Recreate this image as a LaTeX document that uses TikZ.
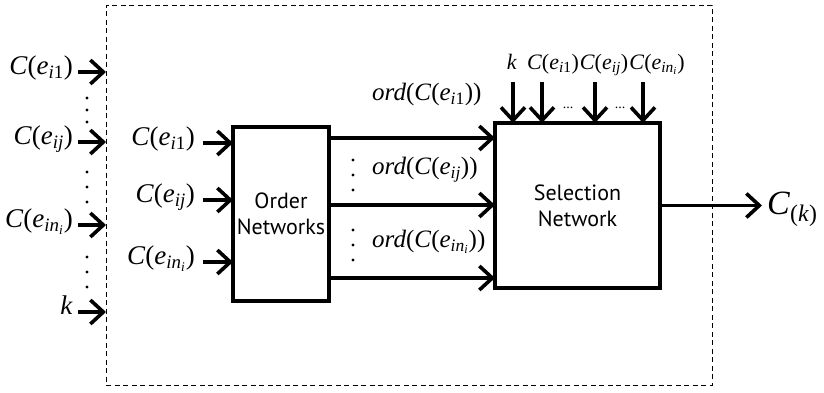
\documentclass[tikz,border=0pt]{standalone}
\usepackage{fontspec}
\setmainfont{Liberation Serif}
\newfontfamily\tms{Liberation Serif}
\setsansfont{PT Sans}
\usetikzlibrary{positioning,arrows.meta,calc}
\newcommand{\ce}[1]{\textit{C}(\textit{e}\textsubscript{#1})}
\newcommand{\nsub}{\textit{in}\textsubscript{\textit{i}}}
\tikzset{
  sn-box/.style={
    draw, line width=3.4pt, font=\fontsize{22}{26}\sffamily,
    align=center, inner sep=0pt, outer sep=0pt
  },
  sn-flow/.style={-{Straight Barb[length=13pt,width=24pt]}, line width=3.6pt},
  sn-lab/.style={font=\tms\fontsize{27}{30}\selectfont, inner sep=0pt,
    text height=0.72em, text depth=0.22em},
  sn-top/.style={sn-lab, font=\tms\fontsize{22}{26}\selectfont},
  sn-frame/.style={draw, line width=0.9pt, dash pattern=on 5pt off 3.5pt,
    inner sep=0pt, outer sep=0pt}
}
\begin{document}
\begin{tikzpicture}[x=1pt, y=-1pt]
\useasboundingbox (0,0) rectangle (824,392);
% Frame and blocks
\node[sn-frame, minimum width=606pt, minimum height=380pt, anchor=north west] (frame) at (106,5) {};
\node[sn-box, minimum width=96pt, minimum height=174pt, anchor=north west] (order) at (233,127) {Order\\Networks};
\node[sn-box, minimum width=165pt, minimum height=165pt, anchor=north west] (sel) at (495,123) {Selection\\Network};
% Inputs of the frame
\foreach \n/\t/\y in {a/{\ce{\textit{i}1}}/72, b/{\ce{\textit{ij}}}/142, c/{\ce{\nsub}}/225, d/{\textit{k}}/312}{
  \node[sn-lab, anchor=east] (l\n) at (73,\y) {\t};
  \draw[sn-flow, shorten <=5pt] (l\n.east) -- (frame.west |- l\n.east);
}
\foreach \y in {98,110,122, 172,187,202, 257,272,287}
  \fill (87,\y) circle (1.7pt);
% Inputs of the order networks
\foreach \n/\t/\y in {a/{\ce{\textit{i}1}}/143, b/{\ce{\textit{ij}}}/200, c/{\ce{\nsub}}/262}{
  \node[sn-lab, anchor=east] (o\n) at (195,\y) {\t};
  \draw[sn-flow, shorten <=8pt] (o\n.east) -- (order.west |- o\n.east);
}
% Ordered outputs
\foreach \n/\t/\y/\ly in {a/{\textit{ord}(\ce{\textit{i}1})}/138/98, b/{\textit{ord}(\ce{\textit{ij}})}/205/172, c/{\textit{ord}(\ce{\nsub})}/278/245}{
  \coordinate (y\n) at (0,\y);
  \draw[sn-flow] (order.east |- y\n) -- (sel.west |- y\n);
  \node[sn-lab, font=\tms\fontsize{25}{28}\selectfont, anchor=west] (r\n) at (372,\ly) {\t};
}
\foreach \y in {160,175,190, 230,245,260}
  \fill (353,\y) circle (1.7pt);
% Inputs of the selection network
\foreach \n/\t/\x/\ax in {a/{\textit{k}}/512/513, b/{\ce{\textit{i}1}}/553/542, c/{\ce{\textit{ij}}}/604/595, d/{\ce{\nsub}}/657/643}{
  \node[sn-top] (t\n) at (\x,67) {\t};
  \coordinate (s\n) at (\ax,82);
  \draw[sn-flow] (s\n) -- (sel.north -| s\n);
}
\node[font=\tms\fontsize{14}{16}\selectfont] (da) at (568,108) {...};
\node[font=\tms\fontsize{14}{16}\selectfont] (db) at (620,108) {...};
% Output
\node[font=\tms\fontsize{34}{38}\selectfont, inner sep=0pt, anchor=base west] (out) at (767,214) {\textit{C}\textsubscript{(\textit{k})}};
\draw[sn-flow, shorten >=5pt] (sel.east) -- (sel.east -| out.west);
\end{tikzpicture}
\end{document}
